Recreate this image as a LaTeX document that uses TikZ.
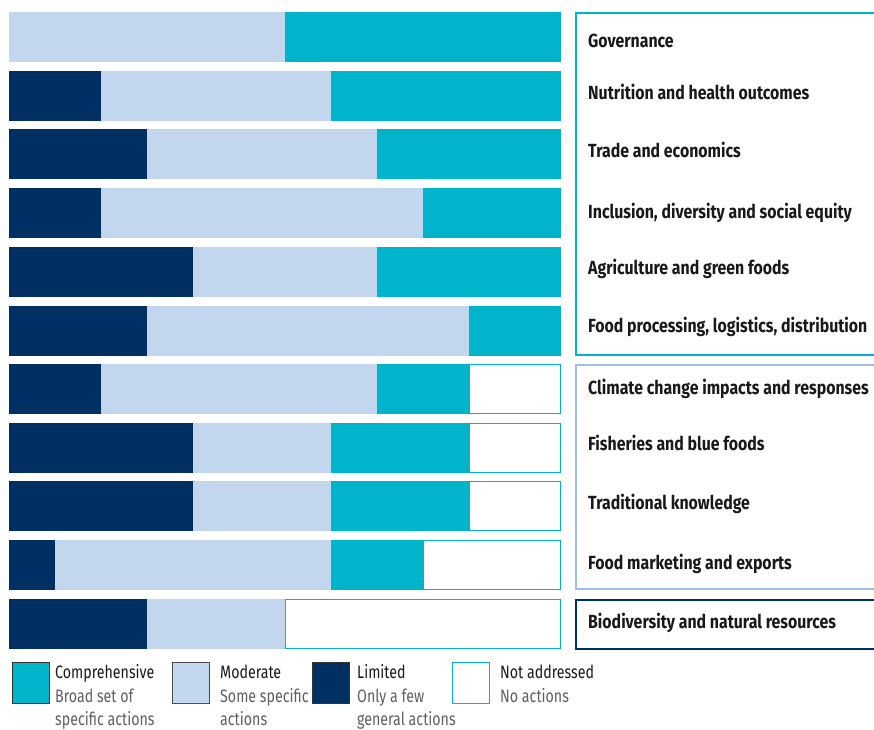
\documentclass[tikz,border=0pt]{standalone}
\usepackage{fontspec}
\setmainfont{Fira Sans}[FakeStretch=0.79]
\newfontfamily\lblfont{Fira Sans}[FakeStretch=0.835]
\definecolor{comp}{RGB}{0,180,204}
\definecolor{modc}{RGB}{194,214,238}
\definecolor{limc}{RGB}{0,48,99}
\definecolor{grpb}{RGB}{160,190,228}
\definecolor{subt}{RGB}{95,95,95}
\newcommand\segm[4]{\fill[#4] ({9+46*(#1)},#3) rectangle ({9+46*(#2)},{#3+50});}
\newcommand\nonecell[2]{\draw[comp,line width=1.4,fill=white] ({9+46*(#1)+0.7},{#2+0.7}) rectangle (560.3,{#2+49.3});}
% #1 limited, #2 moderate, #3 comprehensive, #4 top y
\newcommand\barline[4]{%
  \segm{0}{#1}{#4}{limc}%
  \segm{#1}{#1+#2}{#4}{modc}%
  \segm{#1+#2}{#1+#2+#3}{#4}{comp}%
}
\tikzset{
  lbl/.style={anchor=base west,inner sep=0pt,font=\lblfont\bfseries\fontsize{19}{22}\selectfont,text=black!90},
  legsq/.style={draw,line width=1,minimum width=37pt,minimum height=41pt,inner sep=0pt,anchor=north west},
  legt/.style={anchor=base west,inner sep=0pt,font=\fontsize{18}{22}\selectfont,text=black!90},
  legs/.style={anchor=base west,inner sep=0pt,font=\fontsize{18}{22}\selectfont,text=subt},
}
\begin{document}
\begin{tikzpicture}[x=1pt,y=-1pt]
\useasboundingbox (0,0) rectangle (874,729);
% bars
\barline{0}{6}{6}{12}
\barline{2}{5}{5}{71}
\barline{3}{5}{4}{129}
\barline{2}{7}{3}{188}
\barline{4}{4}{4}{247}
\barline{3}{7}{2}{306}
\barline{2}{6}{2}{364}\nonecell{10}{364}
\barline{4}{3}{3}{423}\nonecell{10}{423}
\barline{4}{3}{3}{481}\nonecell{10}{481}
\barline{1}{6}{2}{540}\nonecell{9}{540}
\barline{3}{3}{0}{599}\nonecell{6}{599}
% group boxes
\draw[comp,line width=2.4] (875,13) -- (576,13) -- (576,355) -- (875,355);
\draw[grpb,line width=2.4] (875,365) -- (576,365) -- (576,589) -- (875,589);
\draw[limc,line width=2.4] (875,600) -- (576,600) -- (576,649) -- (875,649);
% labels
\node[lbl] (l1) at (588,47) {Governance};
\node[lbl] (l2) at (588,99) {Nutrition and health outcomes};
\node[lbl] (l3) at (588,157) {Trade and economics};
\node[lbl] (l4) at (588,218) {Inclusion, diversity and social equity};
\node[lbl] (l5) at (588,274) {Agriculture and green foods};
\node[lbl] (l6) at (588,332) {Food processing, logistics, distribution};
\node[lbl] (l7) at (588,394) {Climate change impacts and responses};
\node[lbl] (l8) at (588,450) {Fisheries and blue foods};
\node[lbl] (l9) at (588,509) {Traditional knowledge};
\node[lbl] (l10) at (588,569) {Food marketing and exports};
\node[lbl] (l11) at (588,628) {Biodiversity and natural resources};
% legend
\node[legsq,fill=comp,draw=black!80] (k1) at (12,662) {};
\node[legt] (t1) at (55,678) {Comprehensive};
\node[legs] (s1a) at (55,702) {Broad set of};
\node[legs] (s1b) at (55,725) {specific actions};
\node[legsq,fill=modc,draw=black!70] (k2) at (172,662) {};
\node[legt] (t2) at (220,678) {Moderate};
\node[legs] (s2a) at (220,702) {Some specific};
\node[legs] (s2b) at (220,725) {actions};
\node[legsq,fill=limc,draw=black!80] (k3) at (312,662) {};
\node[legt] (t3) at (357,678) {Limited};
\node[legs] (s3a) at (357,702) {Only a few};
\node[legs] (s3b) at (357,725) {general actions};
\node[legsq,fill=white,draw=comp] (k4) at (452,662) {};
\node[legt] (t4) at (500,678) {Not addressed};
\node[legs] (s4a) at (500,702) {No actions};
\end{tikzpicture}
\end{document}
